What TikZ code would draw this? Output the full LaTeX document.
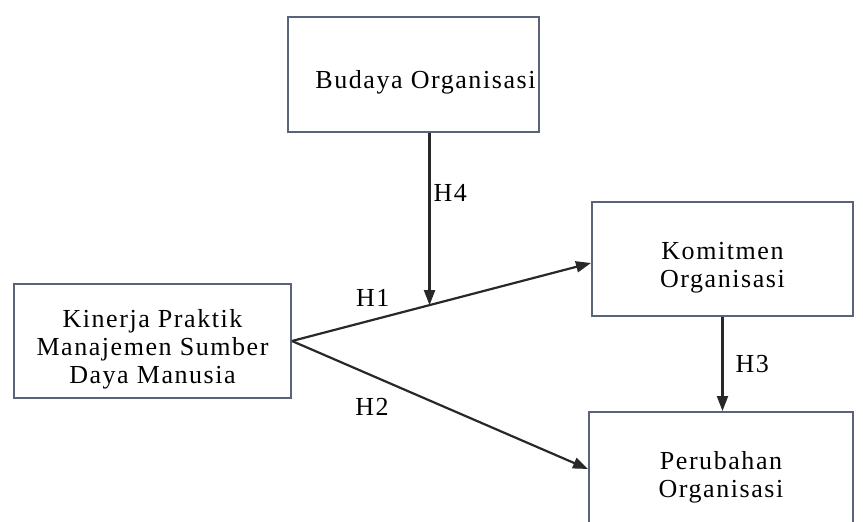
\documentclass[tikz,border=0pt]{standalone}
\usepackage{fontspec}
\setmainfont[LetterSpace=6]{Liberation Serif}
\usetikzlibrary{arrows.meta,calc}
\definecolor{boxline}{RGB}{90,100,120}
\definecolor{arrline}{RGB}{40,40,40}
\newcommand{\lowtext}{\rule{0pt}{34pt}}

\begin{document}
\begin{tikzpicture}[x=1pt,y=-1pt,
		-{Triangle[length=15pt,width=11pt]},line width=2.2pt,
		var node/.style={rectangle,draw=boxline,line width=2pt,align=center,
			font=\fontsize{26}{28}\selectfont,inner sep=0pt},
		hyp label/.style={font=\fontsize{26}{28}\selectfont,inner sep=3pt}]
		
		\clip (0,0) rectangle (863,522);
		
		\node[var node, minimum width=251pt, minimum height=115pt] (budaya) at (413.5,74.5) {\lowtext\hspace*{24pt}Budaya Organisasi};
		\node[var node, minimum width=277pt, minimum height=114pt] (kinerja) at (152.5,341) {\lowtext Kinerja Praktik\\Manajemen Sumber\\Daya Manusia};
		\node[var node, minimum width=261pt, minimum height=114pt] (komitmen) at (722.5,259) {\lowtext Komitmen\\Organisasi};
		\node[var node, minimum width=264pt, minimum height=114pt] (perubahan) at (721,469) {\lowtext Perubahan\\Organisasi};
		
		\coordinate (meet) at ($(kinerja.east)!0.46!([yshift=-4pt]komitmen.west)$);
		
		\path[every edge/.append style={draw=arrline},every node/.style={hyp label}]
		(kinerja.east) edge node[pos=0.27,above=9pt] {H1} ([yshift=-4pt]komitmen.west)
		(kinerja.east) edge node[pos=0.27,below=19pt] {H2} (perubahan.west)
		(budaya.south -| meet) edge node[pos=0.35,right] {H4} (meet)
		(komitmen.south) edge node[right=9pt] {H3} (perubahan.north -| komitmen.south);
		\end{tikzpicture}
\end{document}
